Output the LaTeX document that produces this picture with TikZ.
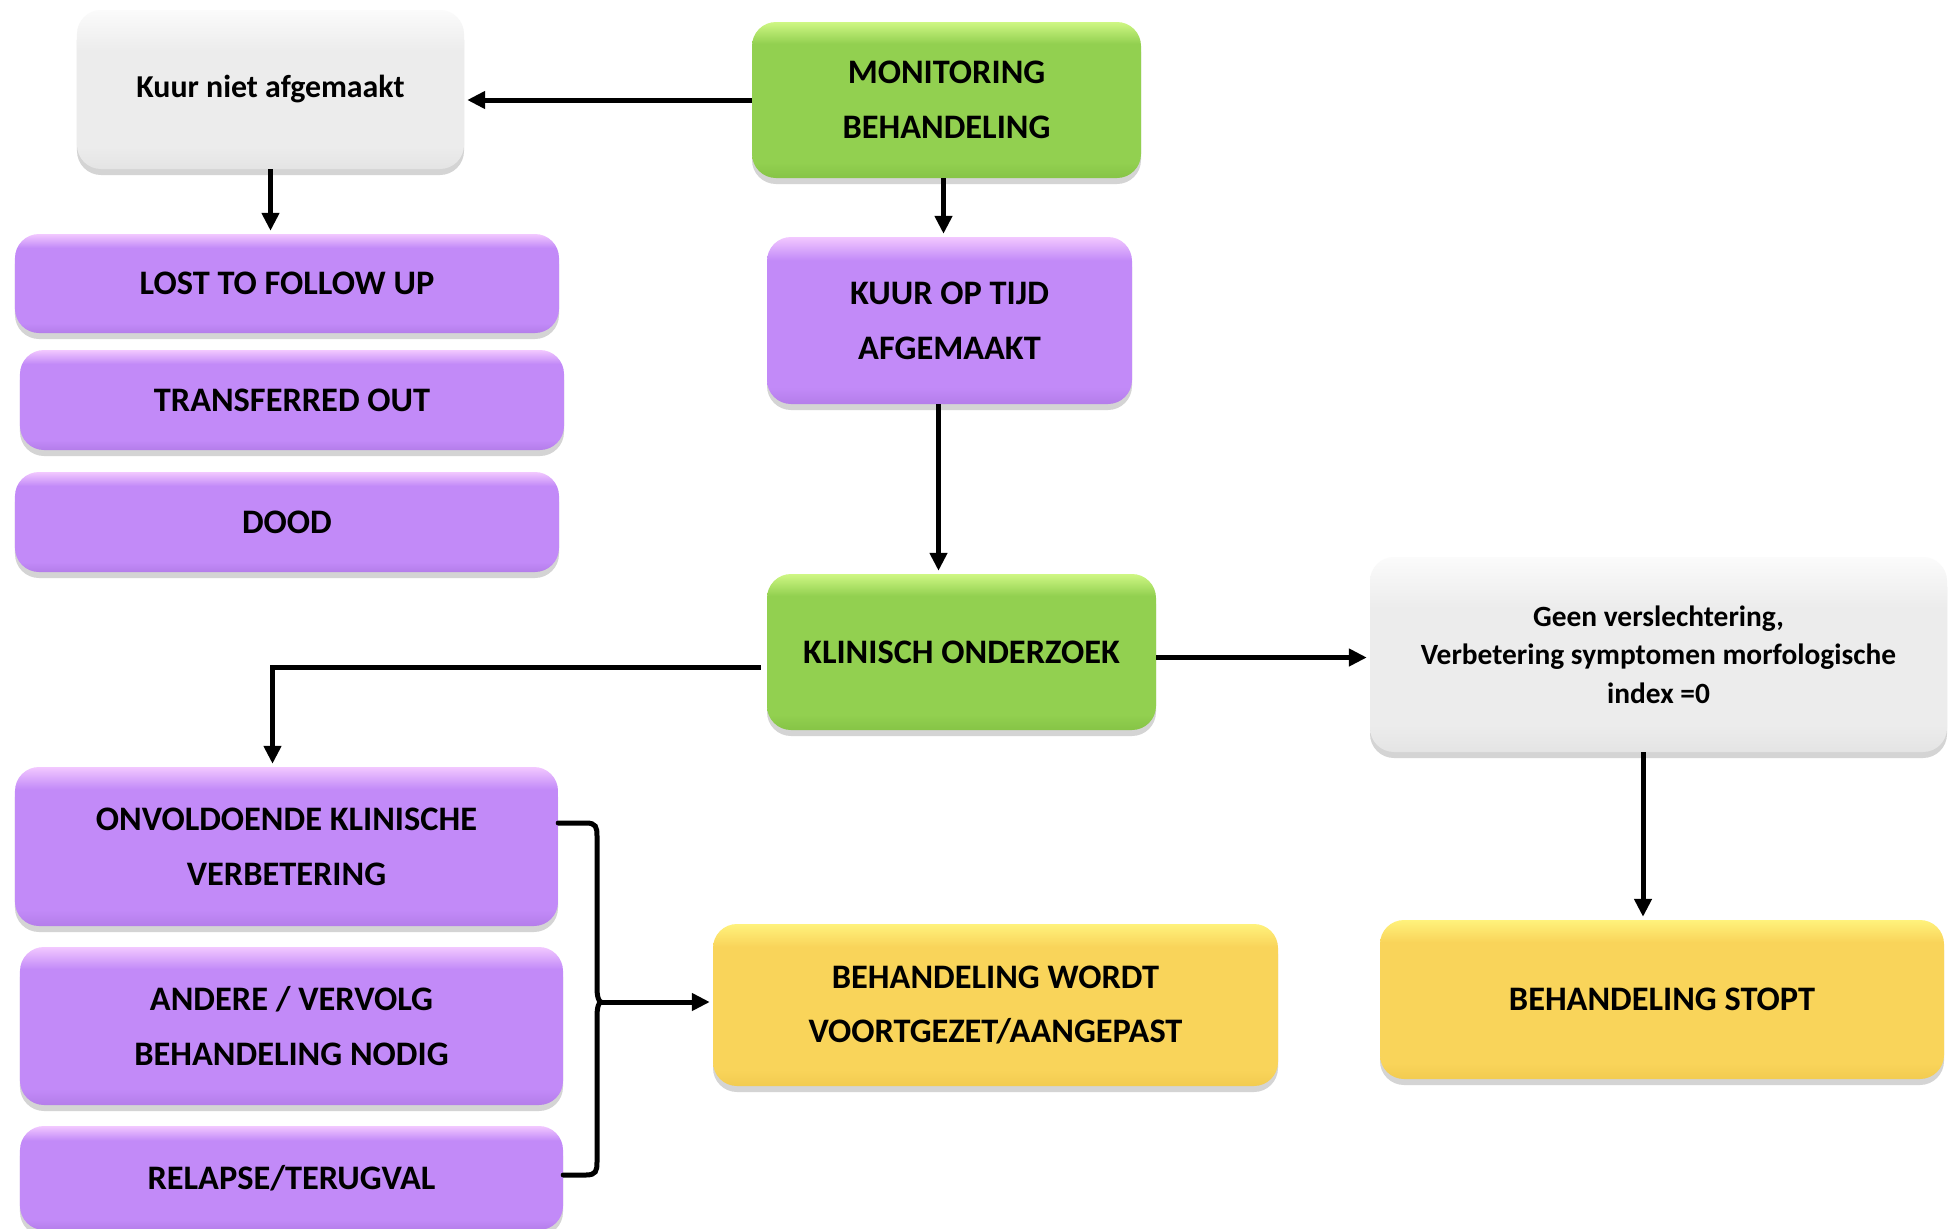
\documentclass[tikz,border=0pt]{standalone}
\usepackage{fontspec}
\setmainfont{Carlito}
\usetikzlibrary{arrows.meta,shadows,calc}

\definecolor{pmain}{HTML}{C28AF8}
\definecolor{plight}{HTML}{F2C8FF}
\definecolor{pdark}{HTML}{B47DEA}
\definecolor{gmain}{HTML}{92D050}
\definecolor{glight}{HTML}{CFF784}
\definecolor{gdark}{HTML}{86C446}
\definecolor{ymain}{HTML}{F9D45A}
\definecolor{ylight}{HTML}{FFF27C}
\definecolor{ydark}{HTML}{F2CB50}
\definecolor{wmain}{HTML}{ECECEC}
\definecolor{wlight}{HTML}{FBFBFB}
\definecolor{wdark}{HTML}{E4E4E4}

\pgfdeclareverticalshading{pbevel}{100bp}{color(0bp)=(pdark); color(25bp)=(pdark); color(30bp)=(pmain); color(68bp)=(pmain); color(75bp)=(plight); color(100bp)=(plight)}
\pgfdeclareverticalshading{gbevel}{100bp}{color(0bp)=(gdark); color(25bp)=(gdark); color(30bp)=(gmain); color(68bp)=(gmain); color(75bp)=(glight); color(100bp)=(glight)}
\pgfdeclareverticalshading{ybevel}{100bp}{color(0bp)=(ydark); color(25bp)=(ydark); color(30bp)=(ymain); color(68bp)=(ymain); color(75bp)=(ylight); color(100bp)=(ylight)}
\pgfdeclareverticalshading{wbevel}{100bp}{color(0bp)=(wdark); color(25bp)=(wdark); color(32bp)=(wmain); color(62bp)=(wmain); color(75bp)=(wlight); color(100bp)=(wlight)}

\tikzset{
  box/.style={rounded corners=24bp, inner sep=0pt, align=center,
    drop shadow={shadow xshift=0bp, shadow yshift=-6bp, opacity=0.28, fill=black!60}},
  capbox/.style={box, font=\fontsize{34.5}{55}\selectfont\bfseries},
  purplebox/.style={capbox, shading=pbevel},
  greenbox/.style={capbox, shading=gbevel},
  yellowbox/.style={capbox, shading=ybevel},
  graybox/.style={box, shading=wbevel},
  arr/.style={line width=5bp, -{Triangle[length=18bp,width=17bp]}, shorten >=3bp},
  brace/.style={line width=5bp}
}

\begin{document}
\begin{tikzpicture}[x=1bp,y=-1bp]
\useasboundingbox (0,0) rectangle (1949,1228);
\fill[white] (0,0) rectangle (1949,1228);

% nodes
\node[graybox, font=\fontsize{32}{38}\selectfont\bfseries, minimum width=387bp, minimum height=159bp] (kuur) at (270.5,89.5) {Kuur niet afgemaakt};
\node[purplebox, minimum width=544bp, minimum height=99bp] (lost) at (287,283.5) {LOST TO FOLLOW UP};
\node[purplebox, minimum width=544bp, minimum height=100bp] (trans) at (292,400) {TRANSFERRED OUT};
\node[purplebox, minimum width=544bp, minimum height=100bp] (dood) at (287,522) {DOOD};

\node[greenbox, minimum width=389bp, minimum height=156bp] (monitor) at (946.5,100) {MONITORING\\BEHANDELING};
\node[purplebox, minimum width=365bp, minimum height=167bp] (kuurop) at (949.5,320.5) {KUUR OP TIJD\\AFGEMAAKT};
\node[greenbox, minimum width=389bp, minimum height=156bp] (klin) at (961.5,652) {KLINISCH ONDERZOEK};

\node[graybox, font=\fontsize{29.5}{38.5}\selectfont\bfseries, minimum width=577bp, minimum height=195bp] (geen) at (1658.5,654.5) {Geen verslechtering,\\Verbetering symptomen morfologische\\index =0};

\node[purplebox, minimum width=543bp, minimum height=159bp] (onvol) at (286.5,846.5) {ONVOLDOENDE KLINISCHE\\VERBETERING};
\node[purplebox, minimum width=543bp, minimum height=158bp] (andere) at (291.5,1026) {ANDERE / VERVOLG\\BEHANDELING NODIG};
\node[purplebox, minimum width=543bp, minimum height=104bp] (relapse) at (291.5,1178) {RELAPSE/TERUGVAL};

\node[yellowbox, minimum width=565bp, minimum height=162bp] (voort) at (995.5,1005) {BEHANDELING WORDT\\VOORTGEZET/AANGEPAST};
\node[yellowbox, minimum width=564bp, minimum height=159bp] (stopt) at (1662,999.5) {BEHANDELING STOPT};

% connectors
\draw[arr] (monitor.west) -- (monitor.west -| kuur.east);
\draw[arr] (kuur.south) -- (kuur.south |- lost.north);
\draw[arr] ([xshift=-3bp]monitor.south) -- ([xshift=-3bp]monitor.south |- kuurop.north);
\draw[arr] ([xshift=-11bp]kuurop.south) -- ([xshift=-11bp]kuurop.south |- klin.north);
\draw[arr] ([yshift=-5.5bp]klin.east) -- ([yshift=-5.5bp]klin.east -| geen.west);
\draw[arr] ([xshift=-6bp,yshift=-15.5bp]klin.west) -| ([xshift=-14bp]onvol.north);
\draw[arr] ([xshift=-15.5bp]geen.south) -- ([xshift=-15.5bp]geen.south |- stopt.north);

% brace
\coordinate (btop) at ([yshift=23.5bp]onvol.east);
\coordinate (bbot) at ([yshift=3bp]relapse.east);
\coordinate (btip) at (601,1002);
\draw[brace, line cap=round]
  (btop) -- (586,823) .. controls (596,823) and (597,827) .. (597,836)
  -- (597,988) .. controls (597,997) and (599,1002) .. (btip);
\draw[brace, line cap=round]
  (bbot) -- (586,1175) .. controls (596,1175) and (597,1171) .. (597,1162)
  -- (597,1016) .. controls (597,1007) and (599,1002) .. (btip);
\draw[arr] (btip) -- (btip -| voort.west);
\end{tikzpicture}
\end{document}
